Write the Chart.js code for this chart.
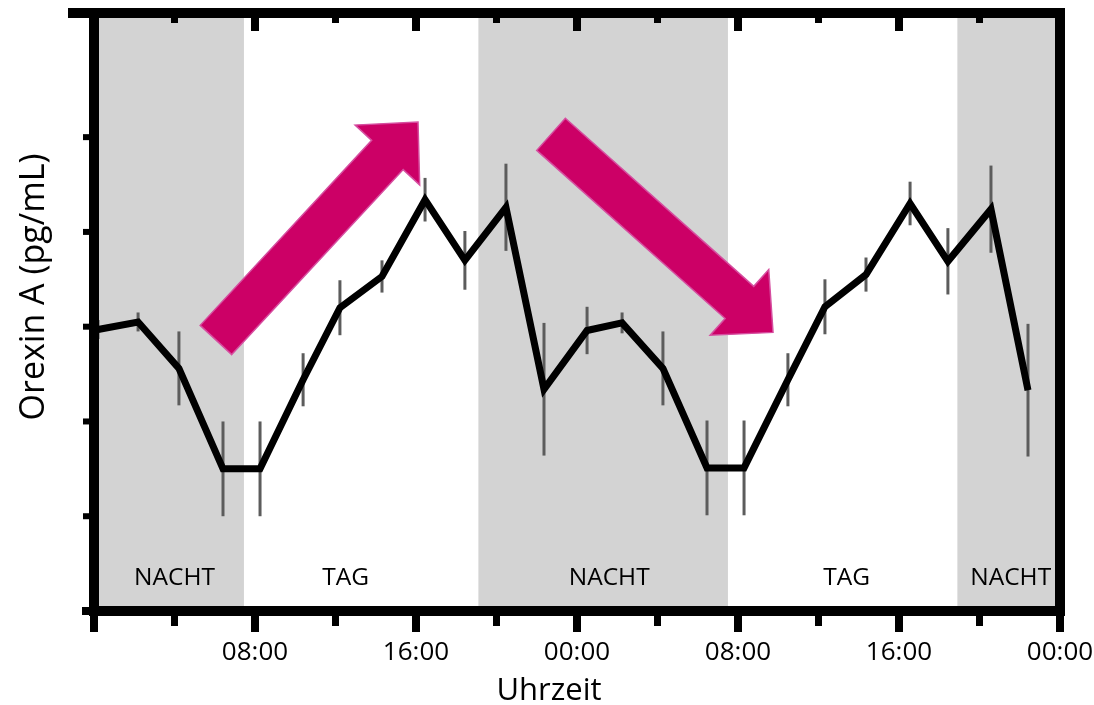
<!DOCTYPE html>
<html>
<head>
<meta charset="utf-8">
<script src="https://cdn.jsdelivr.net/npm/chart.js@4/dist/chart.umd.min.js"></script>
<style>
  html, body { margin: 0; padding: 0; background: #fff; }
  canvas { display: block; }
</style>
</head>
<body>
<canvas id="chart" width="1094" height="705"></canvas>
<script>
// Sampling times (hours from midnight of day 1)
const hours = [0.2, 2.19, 4.22, 6.41, 8.25, 10.39, 12.22, 14.31, 16.45, 18.43, 20.47, 22.36,
               24.5, 26.24, 28.27, 30.46, 32.3, 34.48, 36.32, 38.36, 40.55, 42.43, 44.57, 46.41];
// Mean orexin A level at each time
const orexin = [2.97, 3.05, 2.56, 1.50, 1.50, 2.44, 3.20, 3.53, 4.34, 3.70, 4.26, 2.34,
                2.96, 3.04, 2.56, 1.51, 1.51, 2.44, 3.21, 3.55, 4.30, 3.69, 4.24, 2.33];
// Error (half length of the vertical bar)
const sem = [0.10, 0.10, 0.39, 0.50, 0.50, 0.28, 0.29, 0.17, 0.23, 0.31, 0.46, 0.70,
             0.25, 0.11, 0.39, 0.50, 0.50, 0.28, 0.29, 0.18, 0.23, 0.35, 0.46, 0.70];

// Time axis
const tickHours = [8, 16, 24, 32, 40, 48];
const tickLabels = ['08:00', '16:00', '00:00', '08:00', '16:00', '00:00'];
const markHours = [0, 4, 8, 12, 16, 20, 24, 28, 32, 36, 40, 44, 48];
const yTickValues = [1, 2, 3, 4, 5];

// Light phases
const phaseNames = ['NACHT', 'TAG', 'NACHT', 'TAG', 'NACHT'];
const phaseStart = [0, 7.45, 19.1, 31.5, 42.9];
const phaseEnd = [7.45, 19.1, 31.5, 42.9, 48];

const FONT = '"Open Sans", sans-serif';

function drawArrow(ctx, x0, y0, x1, y1, shaftW, headW, headL) {
  const dx = x1 - x0, dy = y1 - y0, len = Math.hypot(dx, dy);
  const ux = dx / len, uy = dy / len, nx = -uy, ny = ux;
  const bx = x1 - ux * headL, by = y1 - uy * headL;
  const s = shaftW / 2, h = headW / 2;
  ctx.beginPath();
  ctx.moveTo(x0 + nx * s, y0 + ny * s);
  ctx.lineTo(bx + nx * s, by + ny * s);
  ctx.lineTo(bx + nx * h, by + ny * h);
  ctx.lineTo(x1, y1);
  ctx.lineTo(bx - nx * h, by - ny * h);
  ctx.lineTo(bx - nx * s, by - ny * s);
  ctx.lineTo(x0 - nx * s, y0 - ny * s);
  ctx.closePath();
  ctx.fill();
  ctx.stroke();
}

const decor = {
  id: 'decor',
  beforeDatasetsDraw(chart, args, opts) {
    const { ctx, chartArea: a, scales: { x, y } } = chart;
    ctx.save();
    ctx.beginPath();
    ctx.rect(a.left, a.top, a.right - a.left, a.bottom - a.top);
    ctx.clip();
    // night bands
    phaseNames.forEach((name, i) => {
      if (name !== 'NACHT') return;
      const x0 = x.getPixelForValue(phaseStart[i]);
      const x1 = x.getPixelForValue(phaseEnd[i]);
      ctx.fillStyle = opts.nightColor;
      ctx.fillRect(x0, a.top, x1 - x0, a.bottom - a.top);
    });
    // phase names
    ctx.fillStyle = '#000';
    ctx.font = `24.5px ${FONT}`;
    ctx.textAlign = 'center';
    ctx.textBaseline = 'middle';
    phaseNames.forEach((name, i) => {
      const cx = x.getPixelForValue(opts.labelAt[i]);
      ctx.fillText(name, cx, a.bottom - 33);
    });
    // error bars
    ctx.strokeStyle = opts.errorColor;
    ctx.lineWidth = 3;
    hours.forEach((h, i) => {
      const px = x.getPixelForValue(h);
      ctx.beginPath();
      ctx.moveTo(px, y.getPixelForValue(orexin[i] - sem[i]));
      ctx.lineTo(px, y.getPixelForValue(orexin[i] + sem[i]));
      ctx.stroke();
    });
    ctx.restore();
  },
  afterDatasetsDraw(chart, args, opts) {
    const { ctx, chartArea: a, scales: { x, y } } = chart;
    ctx.save();
    // arrows
    ctx.fillStyle = opts.arrowColor;
    ctx.strokeStyle = opts.arrowEdge;
    ctx.lineWidth = 1.5;
    ctx.lineJoin = 'miter';
    opts.arrows.forEach(ar => {
      drawArrow(ctx,
        x.getPixelForValue(ar.from[0]), y.getPixelForValue(ar.from[1]),
        x.getPixelForValue(ar.to[0]), y.getPixelForValue(ar.to[1]),
        43, 88, 45);
    });
    // frame
    ctx.strokeStyle = '#000';
    ctx.lineWidth = 10;
    ctx.lineJoin = 'miter';
    ctx.strokeRect(a.left, a.top, a.right - a.left, a.bottom - a.top);
    ctx.beginPath();
    ctx.moveTo(a.left - 26, a.top); ctx.lineTo(a.left, a.top);
    ctx.stroke();
    ctx.lineWidth = 8;
    ctx.beginPath();
    ctx.moveTo(a.left - 12, a.bottom); ctx.lineTo(a.left, a.bottom);
    ctx.stroke();
    // time marks: outward at the bottom, inward at the top
    markHours.forEach(h => {
      const px = x.getPixelForValue(h);
      const major = h % 8 === 0;
      ctx.lineWidth = major ? 8 : 7;
      ctx.beginPath();
      ctx.moveTo(px, a.bottom);
      ctx.lineTo(px, a.bottom + (major ? 21 : 15));
      ctx.stroke();
      ctx.beginPath();
      ctx.moveTo(px, a.top);
      ctx.lineTo(px, a.top + (major ? 18 : 10));
      ctx.stroke();
    });
    // value marks on the left
    ctx.lineWidth = 6;
    yTickValues.forEach(v => {
      const py = y.getPixelForValue(v);
      ctx.beginPath();
      ctx.moveTo(a.left, py);
      ctx.lineTo(a.left - 11, py);
      ctx.stroke();
    });
    // axis titles
    ctx.fillStyle = '#000';
    ctx.textAlign = 'center';
    ctx.font = `31px ${FONT}`;
    ctx.textBaseline = 'alphabetic';
    ctx.fillText(opts.xTitle, 549, 700);
    ctx.save();
    ctx.translate(34, 287);
    ctx.rotate(-Math.PI / 2);
    ctx.font = `34px ${FONT}`;
    ctx.textBaseline = 'middle';
    ctx.fillText(opts.yTitle, 0, 0);
    ctx.restore();
    ctx.restore();
  }
};

new Chart(document.getElementById('chart'), {
  type: 'line',
  data: {
    datasets: [{
      data: hours.map((h, i) => ({ x: h, y: orexin[i] })),
      borderColor: '#000',
      borderWidth: 7,
      borderJoinStyle: 'miter',
      pointRadius: 0,
      tension: 0,
      fill: false
    }]
  },
  options: {
    responsive: false,
    animation: false,
    devicePixelRatio: 1,
    layout: { padding: { top: 13, right: 34, left: 0, bottom: 0 } },
    plugins: {
      legend: { display: false },
      tooltip: { enabled: false },
      decor: {
        nightColor: '#d3d3d3',
        errorColor: '#5c5c5c',
        arrowColor: '#cc0066',
        arrowEdge: '#d64ea0',
        xTitle: 'Uhrzeit',
        yTitle: 'Orexin A (pg/mL)',
        labelAt: [4.0, 12.5, 25.6, 37.4, 45.55],
        arrows: [
          { from: [6.06, 2.86], to: [16.1, 5.16] },
          { from: [22.71, 5.03], to: [33.74, 2.94] }
        ]
      }
    },
    scales: {
      x: {
        type: 'linear',
        min: 0,
        max: 48,
        afterBuildTicks: s => { s.ticks = tickHours.map(v => ({ value: v })); },
        afterFit: s => { s.height = 94; },
        ticks: {
          autoSkip: false,
          maxRotation: 0,
          padding: 0,
          color: '#000',
          font: { family: FONT, size: 26 },
          callback: v => tickLabels[tickHours.indexOf(v)] ?? ''
        },
        grid: {
          display: true,
          drawOnChartArea: false,
          drawTicks: true,
          tickLength: 26,
          color: 'rgba(0,0,0,0)'
        },
        border: { display: false }
      },
      y: {
        type: 'linear',
        min: 0,
        max: 6.31,
        afterBuildTicks: s => { s.ticks = yTickValues.map(v => ({ value: v })); },
        afterFit: s => { s.width = 94; },
        ticks: { display: false },
        grid: { display: false, drawTicks: false },
        border: { display: false }
      }
    }
  },
  plugins: [decor]
});
</script>
</body>
</html>
